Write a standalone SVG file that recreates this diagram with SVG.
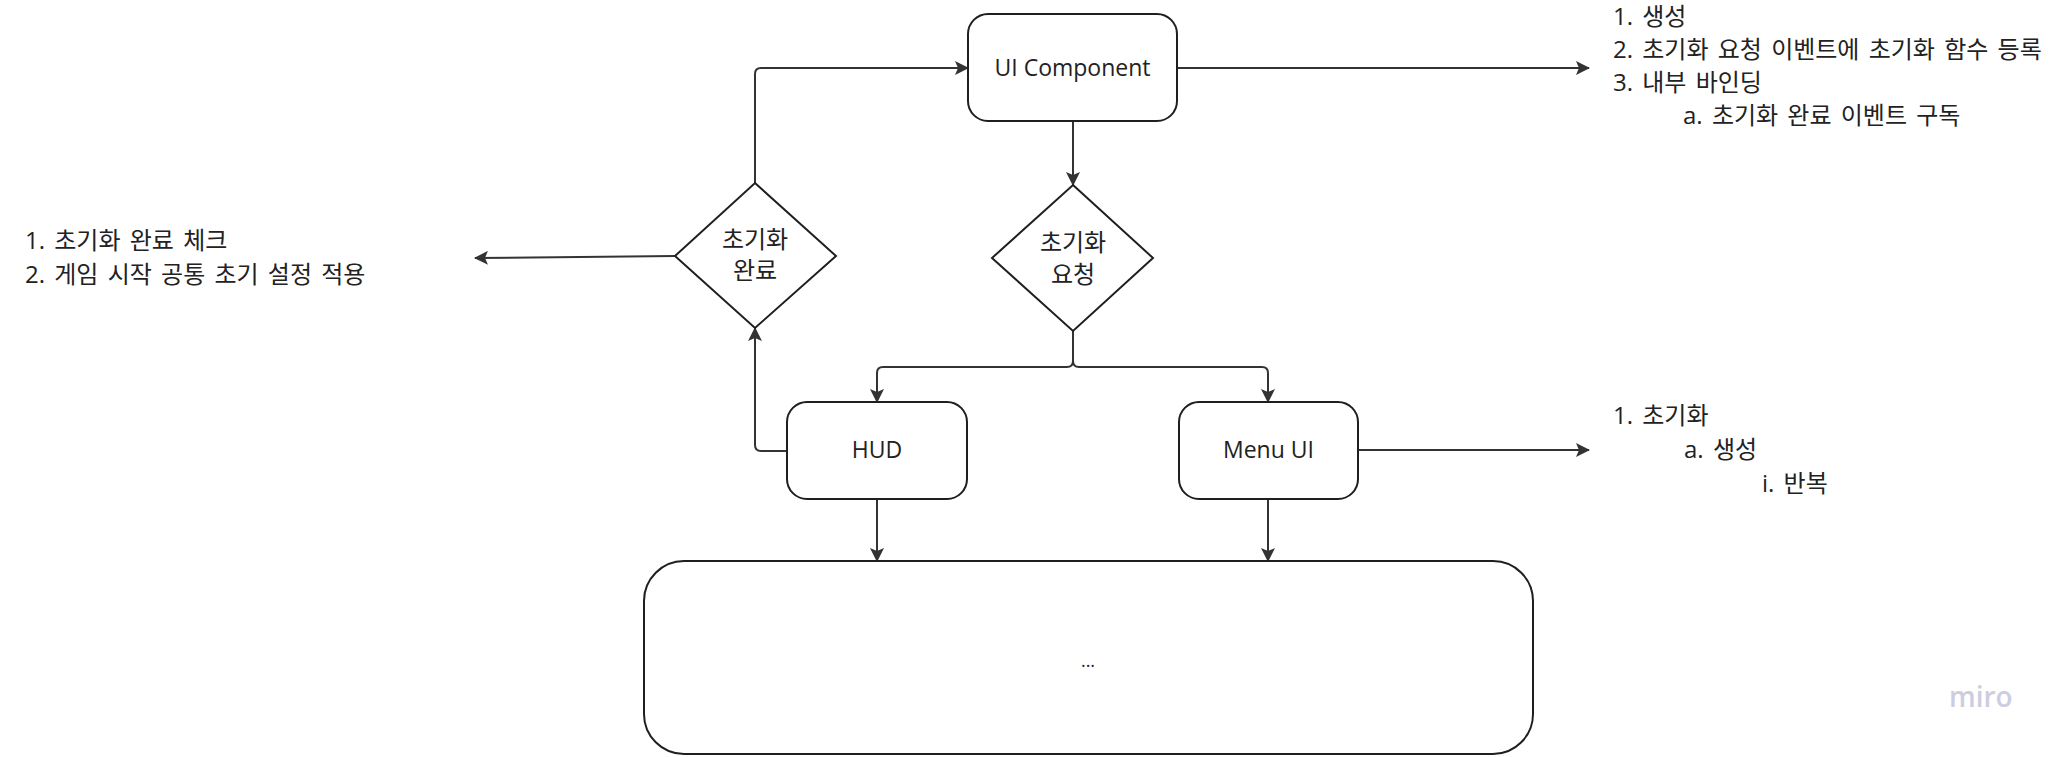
<svg xmlns="http://www.w3.org/2000/svg" width="2062" height="757" viewBox="0 0 2062 757">
<style>
.shape{fill:#fff;stroke:#1f1f1f;stroke-width:2}
.conn{fill:none;stroke:#333;stroke-width:2}
.t{font-family:"Open Sans","Noto Sans CJK KR",sans-serif;font-size:23px;fill:#222}
.k{font-size:24px;word-spacing:3px}
.c{text-anchor:middle}
.wm{font-family:"Open Sans","Noto Sans",sans-serif;font-size:28px;font-weight:600;fill:#cdcddf}
</style>
<defs>
<marker id="arr" viewBox="0 0 14 14" refX="13" refY="7" markerWidth="14" markerHeight="14" markerUnits="userSpaceOnUse" orient="auto">
<path d="M0,0 L14,7 L0,14 L3,7 z" fill="#333"/>
</marker>
</defs>
<rect width="2062" height="757" fill="#fff"/>
<g id="connectors">
<path class="conn" d="M1177,68 H1589" marker-end="url(#arr)"/>
<path class="conn" d="M1073,121 V185" marker-end="url(#arr)"/>
<path class="conn" d="M1073,331 V361 Q1073,367 1067,367 H883 Q877,367 877,373 V402" marker-end="url(#arr)"/>
<path class="conn" d="M1073,331 V361 Q1073,367 1079,367 H1262 Q1268,367 1268,373 V402" marker-end="url(#arr)"/>
<path class="conn" d="M877,499 V561" marker-end="url(#arr)"/>
<path class="conn" d="M1268,499 V561" marker-end="url(#arr)"/>
<path class="conn" d="M1358,450 H1589" marker-end="url(#arr)"/>
<path class="conn" d="M787,451 H761 Q755,451 755,445 V328" marker-end="url(#arr)"/>
<path class="conn" d="M755,183 V74 Q755,68 761,68 H968" marker-end="url(#arr)"/>
<path class="conn" d="M675,256 L475,258" marker-end="url(#arr)"/>
</g>
<g id="ui-component">
<rect class="shape" x="968" y="14" width="209" height="107" rx="20"/>
<text class="t c" x="1072.5" y="76">UI Component</text>
</g>
<g id="init-request">
<polygon class="shape" points="1073,185 1153,258 1073,331 992,258"/>
<text class="t k c" x="1073" y="251">초기화</text>
<text class="t k c" x="1073" y="283">요청</text>
</g>
<g id="init-complete">
<polygon class="shape" points="755,183 836,256 755,328 675,256"/>
<text class="t k c" x="755" y="248">초기화</text>
<text class="t k c" x="755" y="279">완료</text>
</g>
<g id="hud">
<rect class="shape" x="787" y="402" width="180" height="97" rx="20"/>
<text class="t c" x="877" y="458">HUD</text>
</g>
<g id="menu-ui">
<rect class="shape" x="1179" y="402" width="179" height="97" rx="20"/>
<text class="t c" x="1268.5" y="458">Menu UI</text>
</g>
<g id="bottom-box">
<rect class="shape" x="644" y="561" width="889" height="193" rx="40"/>
<text class="t c" x="1088" y="667" style="font-size:18px">...</text>
</g>
<g id="note-ui-component">
<text class="t k" x="1613" y="25">1. 생성</text>
<text class="t k" x="1613" y="58">2. 초기화 요청 이벤트에 초기화 함수 등록</text>
<text class="t k" x="1613" y="91">3. 내부 바인딩</text>
<text class="t k" x="1683" y="124">a. 초기화 완료 이벤트 구독</text>
</g>
<g id="note-init-complete">
<text class="t k" x="25" y="249">1. 초기화 완료 체크</text>
<text class="t k" x="25" y="283">2. 게임 시작 공통 초기 설정 적용</text>
</g>
<g id="note-menu-ui">
<text class="t k" x="1613" y="424">1. 초기화</text>
<text class="t k" x="1684" y="458">a. 생성</text>
<text class="t k" x="1762" y="492">i. 반복</text>
</g>
<text class="wm" x="1949" y="707">miro</text>
</svg>
